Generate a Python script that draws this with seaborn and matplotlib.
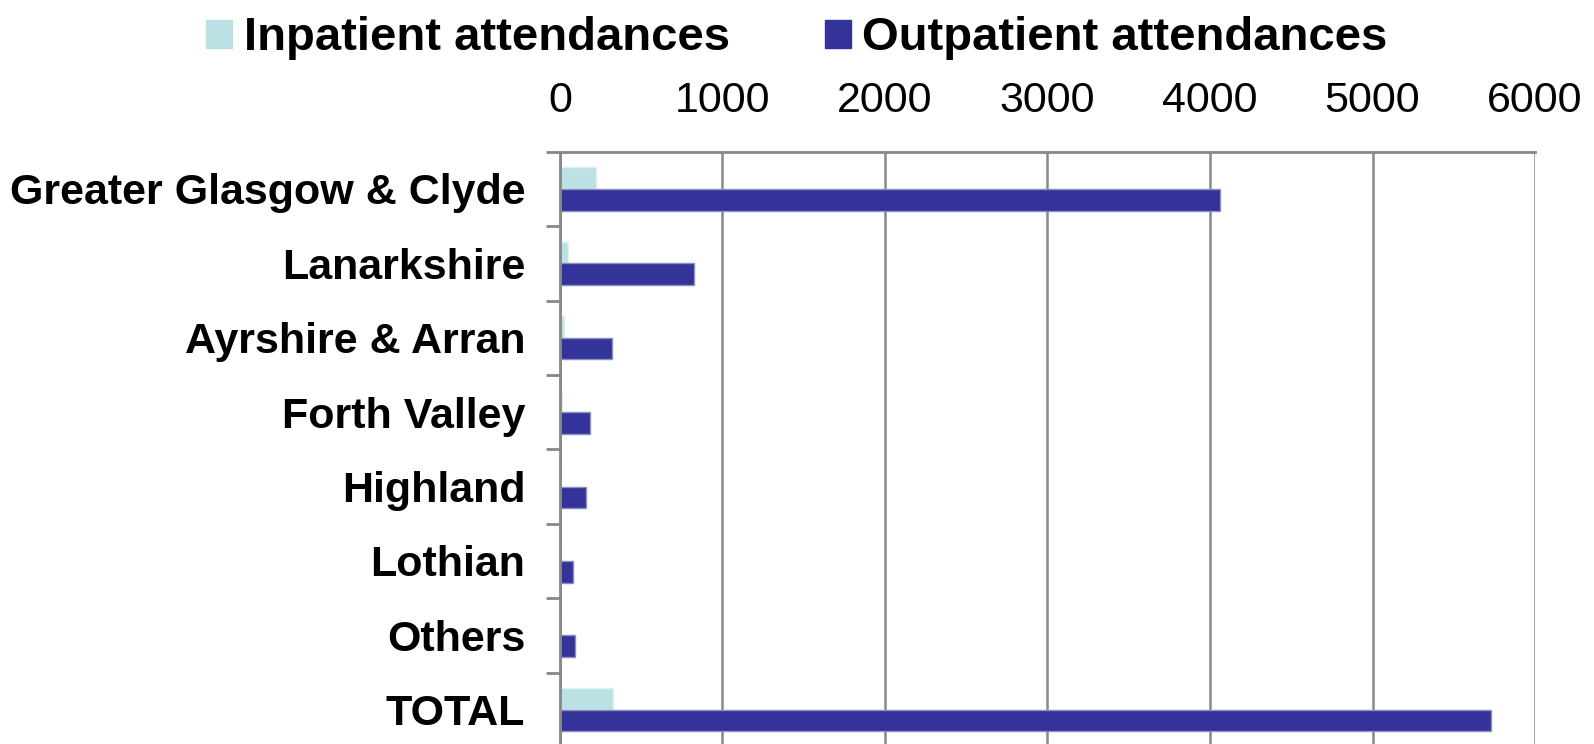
import pandas as pd
import seaborn as sns
import matplotlib.pyplot as plt

# values
boards = ['Greater Glasgow & Clyde', 'Lanarkshire', 'Ayrshire & Arran', 'Forth Valley',
          'Highland', 'Lothian', 'Others', 'TOTAL']
inpatient = [220, 47, 27, 12, 2, 1, 2, 328]
outpatient = [4063, 824, 320, 185, 162, 78, 92, 5730]
series = ['Inpatient attendances', 'Outpatient attendances']
colors = ['#BCE1E4', '#333399']
edges = ['#dff0f2', '#8c8cc6']

df = pd.DataFrame({
    'board': boards * 2,
    'series': [series[0]] * len(boards) + [series[1]] * len(boards),
    'value': inpatient + outpatient,
})

sns.set_style('white')
plt.rcParams['font.family'] = ['Liberation Sans', 'DejaVu Sans']
plt.rcParams['text.color'] = 'black'
plt.rcParams['xtick.color'] = 'black'
plt.rcParams['ytick.color'] = 'black'

fig = plt.figure(figsize=(15.94, 7.44), dpi=100)
ax = fig.add_axes([0.3513, -0.004, 0.6117, 0.8])

sns.barplot(data=df, x='value', y='board', hue='series', order=boards,
            hue_order=series, palette=colors, orient='h', width=0.58,
            saturation=1, linewidth=1, ax=ax)
for cont, ec in zip(ax.containers, edges):
    for bar in cont:
        bar.set_edgecolor(ec)

ax.set_xlim(0, 6000)
ax.set_ylim(len(boards) - 0.5, -0.5)
ax.set_xticks(range(0, 6001, 1000))
ax.xaxis.tick_top()
ax.tick_params(axis='x', length=0, pad=22, labelsize=31, labelcolor='black')
ax.tick_params(axis='y', which='major', length=0, pad=25, labelsize=31, labelcolor='black')
for lab in ax.get_yticklabels():
    lab.set_fontweight('bold')
ax.set_yticks([i + 0.5 for i in range(-1, len(boards) - 1)], minor=True)
ax.tick_params(axis='y', which='minor', length=10, width=2, color='#888888', left=True)
ax.grid(axis='x', color='#888888', linewidth=1.8)
ax.set_axisbelow(True)
for side in ['right', 'bottom']:
    ax.spines[side].set_visible(False)
for side in ['left', 'top']:
    ax.spines[side].set_color('#888888')
    ax.spines[side].set_linewidth(2)
ax.set_xlabel('')
ax.set_ylabel('')

handles, labels = ax.get_legend_handles_labels()
ax.legend_.remove()
leg = fig.legend(handles, labels, loc='upper center', bbox_to_anchor=(0.5, 1.035), ncol=2,
                 frameon=False, handlelength=0.55, handleheight=0.55, handletextpad=0.25,
                 columnspacing=2.0, prop={'size': 34, 'weight': 'bold'})
for h, c in zip(leg.legend_handles, colors):
    h.set_edgecolor(c)

fig.savefig('out.png', dpi=100)
